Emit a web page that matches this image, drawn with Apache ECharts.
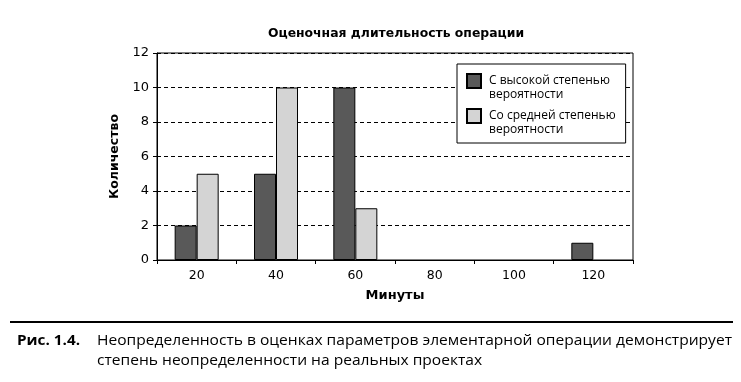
<!DOCTYPE html>
<html><head><meta charset="utf-8">
<script src="https://cdn.jsdelivr.net/npm/echarts@6/dist/echarts.min.js"></script>
<style>html,body{margin:0;padding:0;background:#fff}#c{width:741px;height:382px}</style>
</head><body><div id="c"></div>
<script>
var categories = ['20', '40', '60', '80', '100', '120'];
var highSeriesName = 'С высокой степенью\nвероятности';
var midSeriesName = 'Со средней степенью\nвероятности';
var highValues = [2, 5, 10, 0, 0, 1];
var midValues = [5, 10, 3, 0, 0, 0];
var titleText = 'Оценочная длительность операции';
var xName = 'Минуты';
var yName = 'Количество';
var captionLabel = 'Рис. 1.4.';
var captionLine1 = 'Неопределенность в оценках параметров элементарной операции демонстрирует';
var captionLine2 = 'степень неопределенности на реальных проектах';

var font = 'DejaVu Sans';
var capFont = '"Open Sans", sans-serif';

function measure(text, f) {
  var ctx = document.createElement('canvas').getContext('2d');
  ctx.font = f;
  return ctx.measureText(text).width;
}
var capRegular = '15px ' + capFont;
var capBold = 'bold 15px ' + capFont;
var capScale = 635 / measure(captionLine1, capRegular);
var labelScale = 63 / measure(captionLabel, capBold);

function toBarData(values) {
  return values.map(function (v) {
    return v === 0 ? {value: v, itemStyle: {borderWidth: 0}} : v;
  });
}

var chart = echarts.init(document.getElementById('c'), null, {renderer: 'canvas'});
chart.setOption({
  animation: false,
  backgroundColor: '#fff',
  title: {
    text: titleText, left: 396, top: 28, textAlign: 'center', padding: 0,
    textStyle: {fontFamily: font, fontSize: 12.4, fontWeight: 'bold', color: '#000'}
  },
  grid: {left: 157, right: 108, top: 53, bottom: 122, show: true, borderColor: '#000', borderWidth: 1},
  legend: {
    orient: 'vertical', left: 457, top: 64,
    padding: [9, 10, 5, 9], itemGap: 5, itemWidth: 14, itemHeight: 28,
    backgroundColor: '#fff', borderColor: '#000', borderWidth: 1,
    icon: 'path://M0,0L14,0L14,14L0,14Z M0,28L0,28',
    textStyle: {fontFamily: capFont, fontSize: 12, color: '#000', lineHeight: 14, padding: [0, 0, 0, 3]},
    data: [highSeriesName, midSeriesName]
  },
  xAxis: {
    type: 'category', data: categories,
    name: xName, nameLocation: 'middle', nameGap: 29,
    nameTextStyle: {fontFamily: font, fontSize: 13, fontWeight: 'bold', color: '#000'},
    axisLine: {lineStyle: {color: '#000', width: 1}},
    axisTick: {show: true, length: 4, lineStyle: {color: '#000'}},
    axisLabel: {fontFamily: font, fontSize: 12.5, color: '#000', margin: 9}
  },
  yAxis: {
    type: 'value', min: 0, max: 12, interval: 2,
    name: yName, nameLocation: 'middle', nameGap: 28, nameRotate: 90,
    nameTextStyle: {fontFamily: font, fontSize: 12.5, fontWeight: 'bold', color: '#000'},
    axisLine: {show: true, lineStyle: {color: '#000', width: 1}},
    axisTick: {show: true, length: 4, lineStyle: {color: '#000'}},
    axisLabel: {fontFamily: font, fontSize: 13, color: '#000', margin: 8},
    splitLine: {show: true, lineStyle: {color: '#000', type: [4, 3], width: 1}}
  },
  series: [
    {name: highSeriesName, type: 'bar', data: toBarData(highValues), barWidth: 22, barGap: '0%',
     itemStyle: {color: '#595959', borderColor: '#000', borderWidth: 1}},
    {name: midSeriesName, type: 'bar', data: toBarData(midValues), barWidth: 22, barGap: '0%',
     itemStyle: {color: '#d4d4d4', borderColor: '#000', borderWidth: 1}}
  ],
  graphic: [
    {type: 'line', shape: {x1: 10, y1: 322, x2: 733, y2: 322}, style: {stroke: '#000', lineWidth: 2}},
    {type: 'text', x: 17, y: 333, scaleX: labelScale, style: {text: captionLabel, font: capBold, fill: '#000', verticalAlign: 'top'}},
    {type: 'text', x: 97, y: 333, scaleX: capScale, style: {text: captionLine1, font: capRegular, fill: '#000', verticalAlign: 'top'}},
    {type: 'text', x: 97, y: 353, scaleX: capScale, style: {text: captionLine2, font: capRegular, fill: '#000', verticalAlign: 'top'}}
  ]
});
</script></body></html>
